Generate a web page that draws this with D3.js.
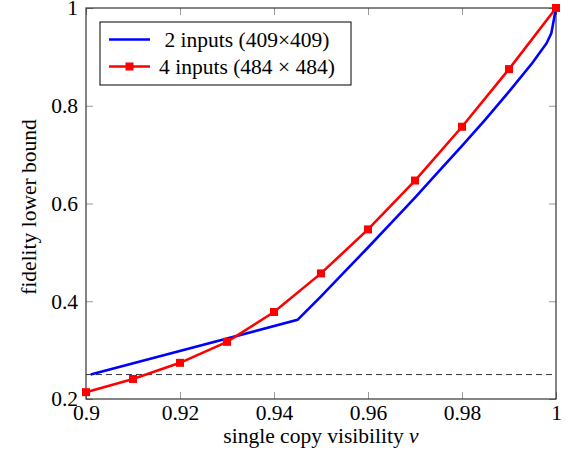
<!DOCTYPE html>
<html>
<head>
<meta charset="utf-8">
<script src="https://cdn.jsdelivr.net/npm/d3@7"></script>
<style>
  body { margin: 0; background: #fff; }
  svg, svg text { font-family: "Liberation Serif", "Times New Roman", Times, "DejaVu Serif", serif !important; }
</style>
</head>
<body>
<div id="chart"></div>
<script>
var svgWidth = 580;
var svgHeight = 462;

var margin = { top: 8, right: 24, bottom: 63, left: 86 };
var width = svgWidth - margin.left - margin.right;
var height = svgHeight - margin.top - margin.bottom;

// data
var twoInputsX = [0.901, 0.945, 0.95, 0.955, 0.96, 0.965, 0.97, 0.975, 0.98, 0.985, 0.99, 0.995, 0.998, 0.999, 1.0];
var twoInputsY = [0.25, 0.362, 0.41, 0.46, 0.51, 0.561, 0.612, 0.665, 0.718, 0.772, 0.829, 0.888, 0.928, 0.948, 1.0];

var fourInputsX = [0.9, 0.91, 0.92, 0.93, 0.94, 0.95, 0.96, 0.97, 0.98, 0.99, 1.0];
var fourInputsY = [0.214, 0.241, 0.274, 0.317, 0.378, 0.457, 0.547, 0.647, 0.757, 0.875, 1.0];

var baseline = 0.25;

var xTicks = [0.9, 0.92, 0.94, 0.96, 0.98, 1];
var yTicks = [0.2, 0.4, 0.6, 0.8, 1];

var legendLabels = ["2 inputs (409\u00d7409)", "4 inputs (484 \u00d7 484)"];

var fontSize = 21.5;

var svg = d3.select("#chart")
    .append("svg")
    .attr("width", svgWidth)
    .attr("height", svgHeight);

var chartGroup = svg.append("g")
    .attr("transform", `translate(${margin.left}, ${margin.top})`);

var xScale = d3.scaleLinear().domain([0.9, 1]).range([0, width]);
var yScale = d3.scaleLinear().domain([0.2, 1]).range([height, 0]);

var fmt = function (d) { return d === 1 ? "1" : String(d); };
var tickLen = 7;

// ticks inside on all four sides
function tickAxis(axis, transform) {
    var g = chartGroup.append("g")
        .attr("transform", transform)
        .call(axis);
    g.attr("font-family", null);
    g.select(".domain").remove();
    g.selectAll(".tick line").attr("stroke", "#999").attr("stroke-width", 1);
    return g;
}

var bottomG = tickAxis(d3.axisBottom(xScale).tickValues(xTicks).tickSize(-tickLen).tickPadding(6).tickFormat(fmt),
    `translate(0, ${height})`);
bottomG.selectAll(".tick text").attr("font-size", fontSize).attr("fill", "#000");

var leftG = tickAxis(d3.axisLeft(yScale).tickValues(yTicks).tickSize(-tickLen).tickPadding(8).tickFormat(fmt),
    "translate(0,0)");
leftG.selectAll(".tick text").attr("font-size", fontSize).attr("fill", "#000");

tickAxis(d3.axisTop(xScale).tickValues(xTicks).tickSize(-tickLen).tickFormat(""), "translate(0,0)");
tickAxis(d3.axisRight(yScale).tickValues(yTicks).tickSize(-tickLen).tickFormat(""), `translate(${width},0)`);

// frame
chartGroup.append("rect")
    .attr("x", 0).attr("y", 0)
    .attr("width", width).attr("height", height)
    .attr("fill", "none")
    .attr("stroke", "#222")
    .attr("stroke-width", 1.1);

// dashed reference line
chartGroup.append("line")
    .attr("x1", xScale(0.9)).attr("x2", xScale(1))
    .attr("y1", yScale(baseline)).attr("y2", yScale(baseline))
    .attr("stroke", "#333")
    .attr("stroke-width", 1)
    .attr("stroke-dasharray", "6,4");

var line = d3.line()
    .x(d => xScale(d[0]))
    .y(d => yScale(d[1]));

var blueData = twoInputsX.map((x, i) => [x, twoInputsY[i]]);
var redData = fourInputsX.map((x, i) => [x, fourInputsY[i]]);

chartGroup.append("path")
    .datum(blueData)
    .attr("d", line)
    .attr("fill", "none")
    .attr("stroke", "#0000ff")
    .attr("stroke-width", 2.6);

chartGroup.append("path")
    .datum(redData)
    .attr("d", line)
    .attr("fill", "none")
    .attr("stroke", "#ff0000")
    .attr("stroke-width", 2.6);

var mk = 8;
chartGroup.selectAll(".marker")
    .data(redData)
    .enter()
    .append("rect")
    .attr("class", "marker")
    .attr("x", d => xScale(d[0]) - mk / 2)
    .attr("y", d => yScale(d[1]) - mk / 2)
    .attr("width", mk)
    .attr("height", mk)
    .attr("fill", "#ff0000");

// legend
var legend = svg.append("g").attr("transform", "translate(100, 22)");
legend.append("rect")
    .attr("x", 0).attr("y", 0)
    .attr("width", 251).attr("height", 63)
    .attr("fill", "#fff")
    .attr("stroke", "#000")
    .attr("stroke-width", 1);

var legendColors = ["#0000ff", "#ff0000"];
legendLabels.forEach(function (label, i) {
    var cy = 17.5 + i * 27;
    legend.append("line")
        .attr("x1", 9).attr("x2", 50)
        .attr("y1", cy).attr("y2", cy)
        .attr("stroke", legendColors[i])
        .attr("stroke-width", 2.6);
    if (i === 1) {
        legend.append("rect")
            .attr("x", 29.5 - mk / 2).attr("y", cy - mk / 2)
            .attr("width", mk).attr("height", mk)
            .attr("fill", "#ff0000");
    }
    legend.append("text")
        .attr("x", 147)
        .attr("y", cy + 7)
        .attr("text-anchor", "middle")
        .attr("font-size", fontSize)
        .text(label);
});

// axis titles
var xTitle = svg.append("text")
    .attr("x", margin.left + width / 2)
    .attr("y", 443)
    .attr("text-anchor", "middle")
    .attr("font-size", fontSize);
xTitle.append("tspan").text("single copy visibility ");
xTitle.append("tspan").attr("font-style", "italic").text("\u03bd");

svg.append("text")
    .attr("transform", `translate(36, 207) rotate(-90)`)
    .attr("text-anchor", "middle")
    .attr("font-size", fontSize)
    .text("fidelity lower bound");
</script>
</body>
</html>
